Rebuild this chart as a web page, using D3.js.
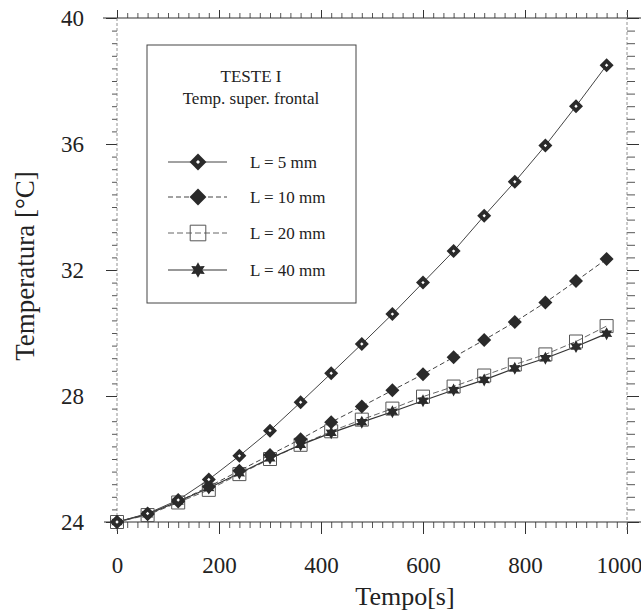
<!DOCTYPE html>
<html>
<head>
<meta charset="utf-8">
<script src="https://cdn.jsdelivr.net/npm/d3@7"></script>
<style>
  body { margin: 0; background: #fff; }
  svg { display: block; }
  text { font-family: "Liberation Serif", "Times New Roman", serif; fill: #222; }
</style>
</head>
<body>
<svg id="chart" width="641" height="616"></svg>
<script>
// Measured surface temperature (front face) over time, test 1
const tempo = [0, 60, 120, 180, 240, 300, 360, 420, 480, 540, 600, 660, 720, 780, 840, 900, 960];
const tempL5  = [24.0, 24.27, 24.7, 25.35, 26.1, 26.9, 27.8, 28.72, 29.65, 30.6, 31.6, 32.6, 33.72, 34.8, 35.95, 37.2, 38.5];
const tempL10 = [24.0, 24.25, 24.65, 25.12, 25.63, 26.13, 26.63, 27.17, 27.67, 28.18, 28.69, 29.23, 29.78, 30.35, 30.97, 31.65, 32.35];
const tempL20 = [24.0, 24.22, 24.62, 25.02, 25.52, 26.0, 26.45, 26.88, 27.25, 27.6, 27.98, 28.3, 28.65, 29.0, 29.32, 29.73, 30.22];
const tempL40 = [24.0, 24.25, 24.65, 25.08, 25.55, 26.02, 26.45, 26.83, 27.17, 27.5, 27.85, 28.19, 28.51, 28.88, 29.2, 29.57, 29.98];

const seriesNames = ["L = 5 mm", "L = 10 mm", "L = 20 mm", "L = 40 mm"];
const xTickValues = [0, 200, 400, 600, 800, 1000];
const yTickValues = [24, 28, 32, 36, 40];
const legendTitle = ["TESTE I", "Temp. super. frontal"];
const xTitle = "Tempo[s]";
const yTitle = "Temperatura [°C]";

const svg = d3.select("#chart");
const x = d3.scaleLinear().domain([0, 1000]).range([117, 627]);
const y = d3.scaleLinear().domain([24, 40]).range([522, 18]);

// custom marker shapes
const diamondType = { draw(ctx, r) { ctx.moveTo(0, -r); ctx.lineTo(r, 0); ctx.lineTo(0, r); ctx.lineTo(-r, 0); ctx.closePath(); } };
const squareType  = { draw(ctx, r) { ctx.rect(-r, -r, 2 * r, 2 * r); } };
const star6Type   = { draw(ctx, r) {
  const ri = r * 0.55;
  for (let i = 0; i < 12; i++) {
    const a = -Math.PI / 2 + i * Math.PI / 6;
    const rr = i % 2 ? ri : r;
    const px = rr * Math.cos(a), py = rr * Math.sin(a);
    if (i === 0) ctx.moveTo(px, py); else ctx.lineTo(px, py);
  }
  ctx.closePath();
} };

function drawMarker(g, kind, scale) {
  const k = scale || 1;
  if (kind === 0) {
    g.append("path").attr("d", d3.symbol(diamondType, 7 * k)()).attr("fill", "#2a2a2a");
    g.append("path").attr("d", d3.symbol(diamondType, 1.7 * k)()).attr("fill", "#fff");
  } else if (kind === 1) {
    g.append("path").attr("d", d3.symbol(diamondType, 7 * k)()).attr("fill", "#2a2a2a");
  } else if (kind === 2) {
    g.append("path").attr("d", d3.symbol(squareType, 6.5 * k)()).attr("fill", "none")
      .attr("stroke", "#555").attr("stroke-width", 1);
  } else {
    g.append("path").attr("d", d3.symbol(star6Type, 6.5 * k)()).attr("fill", "#2a2a2a");
  }
}

const lineStyles = [
  { stroke: "#444", dash: null, width: 1 },
  { stroke: "#444", dash: "5,3", width: 1 },
  { stroke: "#666", dash: "6,3", width: 1 },
  { stroke: "#333", dash: null, width: 1.2 }
];

// ---- axes ----
const minorX = d3.range(0, 51).map(i => i * 20);
const minorY = d3.range(0, 41).map(i => 24 + i * 0.4);

function styleAxis(g, color) {
  g.select(".domain").remove();
  g.selectAll(".tick line").attr("stroke", color || "#333");
}

// bottom
svg.append("g").attr("transform", "translate(0,522)")
  .call(d3.axisBottom(x).tickValues(minorX).tickSize(6).tickFormat(""))
  .call(g => styleAxis(g, "#555"));
svg.append("g").attr("transform", "translate(0,522)")
  .call(d3.axisBottom(x).tickValues(xTickValues).tickSize(12).tickPadding(23).tickFormat(d3.format("d")))
  .call(g => styleAxis(g))
  .call(g => g.selectAll("text").attr("font-size", 23).attr("fill", "#222")
    .attr("font-family", "'Liberation Serif','Times New Roman',serif")
    .filter(d => d === 1000).attr("dx", -8));

// top
svg.append("g").attr("transform", "translate(0,18)")
  .call(d3.axisTop(x).tickValues(minorX).tickSize(5).tickFormat(""))
  .call(g => styleAxis(g, "#555"));
svg.append("g").attr("transform", "translate(0,18)")
  .call(d3.axisTop(x).tickValues(xTickValues).tickSize(8).tickFormat(""))
  .call(g => styleAxis(g));

// left
svg.append("g").attr("transform", "translate(117,0)")
  .call(d3.axisLeft(y).tickValues(minorY).tickSize(5).tickFormat(""))
  .call(g => styleAxis(g, "#555"));
svg.append("g").attr("transform", "translate(117,0)")
  .call(d3.axisLeft(y).tickValues(yTickValues).tickSize(11).tickPadding(22).tickFormat(d3.format("d")))
  .call(g => styleAxis(g))
  .call(g => g.selectAll("text").attr("font-size", 23).attr("fill", "#222")
    .attr("font-family", "'Liberation Serif','Times New Roman',serif"));

// right
svg.append("g").attr("transform", "translate(627,0)")
  .call(d3.axisRight(y).tickValues(minorY).tickSize(8).tickFormat(""))
  .call(g => styleAxis(g, "#555"));
svg.append("g").attr("transform", "translate(627,0)")
  .call(d3.axisRight(y).tickValues(yTickValues).tickSize(12).tickFormat(""))
  .call(g => styleAxis(g));

// frame
svg.append("line").attr("x1", 103).attr("x2", 641).attr("y1", y(40)).attr("y2", y(40))
  .attr("stroke", "#333").attr("stroke-width", 1.2);
svg.append("line").attr("x1", 104).attr("x2", 641).attr("y1", y(24)).attr("y2", y(24))
  .attr("stroke", "#333").attr("stroke-width", 1.2);
svg.append("line").attr("x1", x(0)).attr("x2", x(0)).attr("y1", y(40)).attr("y2", y(24) + 10)
  .attr("stroke", "#777").attr("stroke-width", 0.8).attr("stroke-dasharray", "3,2");
svg.append("line").attr("x1", x(1000)).attr("x2", x(1000)).attr("y1", y(40) - 6).attr("y2", y(24) + 10)
  .attr("stroke", "#777").attr("stroke-width", 0.8).attr("stroke-dasharray", "3,2");

// ---- data ----
const allSeries = [tempL5, tempL10, tempL20, tempL40];
const line = d3.line().x(d => x(d[0])).y(d => y(d[1]));
const drawOrder = [2, 3, 1, 0];

drawOrder.forEach(i => {
  const pts = tempo.map((t, j) => [t, allSeries[i][j]]);
  const st = lineStyles[i];
  svg.append("path").datum(pts).attr("d", line)
    .attr("fill", "none").attr("stroke", st.stroke).attr("stroke-width", st.width)
    .attr("stroke-dasharray", st.dash);
});
drawOrder.forEach(i => {
  const pts = tempo.map((t, j) => [t, allSeries[i][j]]);
  svg.append("g").selectAll("g").data(pts).join("g")
    .attr("transform", d => `translate(${x(d[0])},${y(d[1])})`)
    .each(function () { drawMarker(d3.select(this), i, 1); });
});

// ---- legend ----
const lg = svg.append("g");
lg.append("rect").attr("x", 147).attr("y", 45).attr("width", 209).attr("height", 258)
  .attr("fill", "#fff").attr("stroke", "#444").attr("stroke-width", 1);
lg.append("text").attr("x", 251).attr("y", 82).attr("text-anchor", "middle").attr("font-size", 17).text(legendTitle[0]);
lg.append("text").attr("x", 251).attr("y", 104).attr("text-anchor", "middle").attr("font-size", 17).text(legendTitle[1]);
const rowY = [162, 197, 233, 270];
seriesNames.forEach((name, i) => {
  const st = lineStyles[i];
  lg.append("line").attr("x1", 168).attr("x2", 227).attr("y1", rowY[i]).attr("y2", rowY[i])
    .attr("stroke", st.stroke).attr("stroke-width", st.width).attr("stroke-dasharray", st.dash);
  drawMarker(lg.append("g").attr("transform", `translate(198,${rowY[i]})`), i, 1.2);
  lg.append("text").attr("x", 250).attr("y", rowY[i] + 6).attr("font-size", 17).text(name);
});

// ---- titles ----
svg.append("text").attr("x", 405).attr("y", 605).attr("text-anchor", "middle")
  .attr("font-size", 26).text(xTitle);
svg.append("text").attr("transform", "translate(34,266) rotate(-90)").attr("text-anchor", "middle")
  .attr("font-size", 27).text(yTitle);
</script>
</body>
</html>
